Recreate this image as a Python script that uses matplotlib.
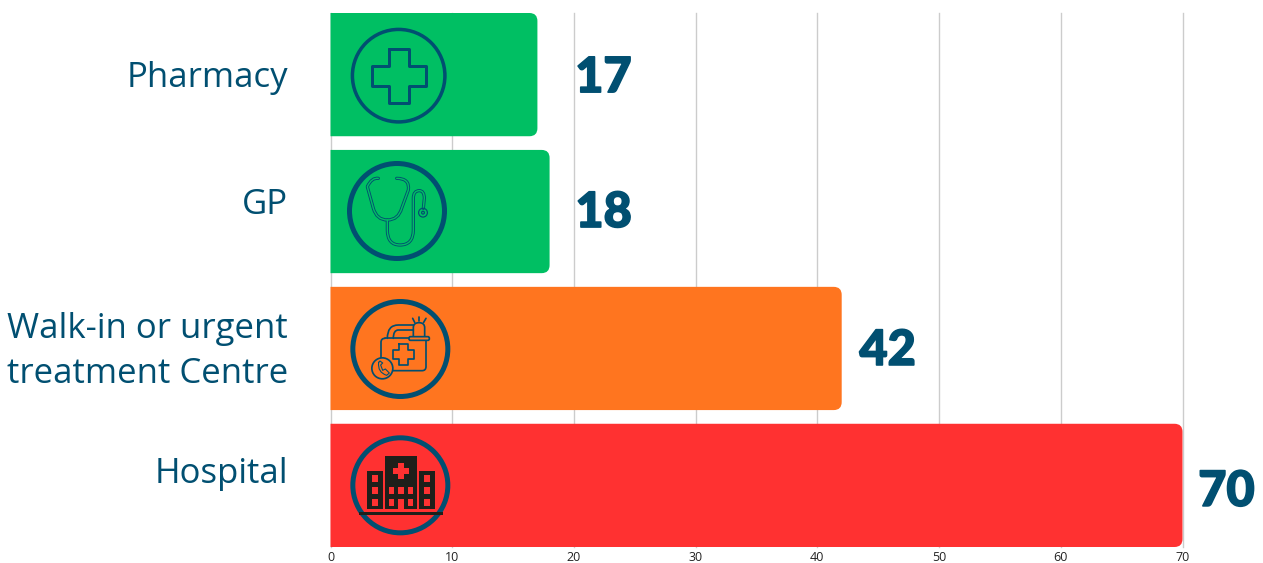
import matplotlib
matplotlib.use('Agg')
import matplotlib.pyplot as plt
import matplotlib.patheffects as pe
from matplotlib.path import Path
from matplotlib.patches import PathPatch, Circle, Rectangle, FancyBboxPatch

categories = ['Pharmacy', 'GP', 'Walk-in or urgent\ntreatment Centre', 'Hospital']
values = [17, 18, 42, 70]
x_ticks = [0, 10, 20, 30, 40, 50, 60, 70]

bar_colors = ['#00BF63', '#00BF63', '#FF751F', '#FF3131']
navy = '#014F71'
dark = '#1F1F1A'
label_dy = [3, -7, 3, -11]    # подписи слева не по центру столбца, сдвиг в px
value_dx = [66, 54, 46, 44]   # сдвиг числа от конца столбца
value_dy = [3, 1, 2, 6]

W, H = 1263, 563
fig = plt.figure(figsize=(W / 100, H / 100), dpi=100)
ax = fig.add_axes([330.5 / W, 16 / H, 852 / W, 534 / H])
ax.set_xlim(0, 70)
ax.set_ylim(3.45, -0.45)

px_x = 852 / 70
px_y = 137.0


def round_bar(y, v, color, h=0.9, r=8):
    # столбец со скруглением только справа
    rx, ry = r / px_x, r / px_y
    top, bot = y - h / 2, y + h / 2
    verts = [(0, top), (v - rx, top), (v, top), (v, top + ry), (v, bot - ry),
             (v, bot), (v - rx, bot), (0, bot), (0, top)]
    codes = [Path.MOVETO, Path.LINETO, Path.CURVE3, Path.CURVE3, Path.LINETO,
             Path.CURVE3, Path.CURVE3, Path.LINETO, Path.CLOSEPOLY]
    ax.add_patch(PathPatch(Path(verts, codes), fc=color, ec='none', zorder=3, clip_on=False))


for i, v in enumerate(values):
    round_bar(i, v, bar_colors[i])
    ax.annotate(categories[i], xy=(0, i), xytext=(-30.5, -label_dy[i] * 0.72),
                textcoords='offset points', ha='right', va='center', color=navy,
                fontsize=25, linespacing=1.4, family='Open Sans', annotation_clip=False)
    t = ax.annotate(str(v), xy=(v, i), xytext=(value_dx[i] * 0.72, -value_dy[i] * 0.72),
                    textcoords='offset points', ha='center', va='center', color=navy,
                    fontsize=35, family='Lato', fontweight='black', annotation_clip=False)
    t.set_path_effects([pe.withStroke(linewidth=1.2, foreground=navy)])

ax.set_xticks(x_ticks)
ax.set_yticks([])
ax.grid(axis='x', color='#CCCCCC', lw=1, zorder=0, clip_on=False)
ax.set_axisbelow(True)
ax.tick_params(axis='x', length=0, pad=3, labelsize=9, labelcolor='#222222')
for lab in ax.get_xticklabels():
    lab.set_family('Open Sans')
for s in ax.spines.values():
    s.set_visible(False)

# иконки рисуем в отдельных осях в пикселях картинки
ov = fig.add_axes([0, 0, 1, 1], zorder=5)
ov.set_xlim(0, W)
ov.set_ylim(H, 0)
ov.axis('off')
ov.patch.set_alpha(0)

PX = 0.72  # px -> pt для толщины линий


def z(pts, oy):
    return [(330 + a / 3, oy + b / 3) for a, b in pts]


def curve(pts, oy, color=navy, lw=1.5, fc='none'):
    # pts: первая точка, далее пары (контрольная, конечная) или одиночные точки-линии
    verts = [z([pts[0]], oy)[0]]
    codes = [Path.MOVETO]
    for p in pts[1:]:
        if len(p) == 4:
            verts += z([(p[0], p[1]), (p[2], p[3])], oy)
            codes += [Path.CURVE3, Path.CURVE3]
        else:
            verts += z([p], oy)
            codes += [Path.LINETO]
    ov.add_patch(PathPatch(Path(verts, codes), fc=fc, ec=color, lw=lw * PX,
                           capstyle='round', joinstyle='round'))


def ring(cx, cy, oy, r_outer, lw, color=navy, fc='none'):
    x, y = z([(cx, cy)], oy)[0]
    ov.add_patch(Circle((x, y), r_outer / 3 - lw / 2, fc=fc, ec=color, lw=lw * PX))


def plus(cx, cy, half, arm, oy, color, lw=0, fc='none'):
    a, h = arm, half
    pts = [(cx - a, cy - h), (cx + a, cy - h), (cx + a, cy - a), (cx + h, cy - a),
           (cx + h, cy + a), (cx + a, cy + a), (cx + a, cy + h), (cx - a, cy + h),
           (cx - a, cy + a), (cx - h, cy + a), (cx - h, cy - a), (cx - a, cy - a),
           (cx - a, cy - h)]
    curve(pts, oy, color=color if lw else 'none', lw=lw, fc=fc)


def box(x0, y0, x1, y1, oy, color):
    (a, b), (c, d) = z([(x0, y0), (x1, y1)], oy)
    ov.add_patch(Rectangle((a, b), c - a, d - b, fc=color, ec='none'))


# Pharmacy
ring(206, 227, 0, 144, 3.5)
plus(206, 227, 81, 30, 0, navy, lw=3)

# GP, трубка двойной линией
ring(201, 633, 0, 150, 5)
tube = [(145, 535), (125, 532, 112, 560), (130, 625), (140, 660, 172, 660),
        (205, 660, 215, 625), (235, 570), (240, 535, 200, 535)]
stem = [(172, 660), (172, 690), (172, 735, 210, 735), (250, 735, 250, 690), (250, 595),
        (250, 572, 268, 572), (283, 572, 283, 595), (280, 625)]
for path in (tube, stem):
    curve(path, 0, color=navy, lw=3.2)
for path in (tube, stem):
    curve(path, 0, color=bar_colors[1], lw=1.4)
ring(279, 638, 0, 15, 1.2)
ring(279, 638, 0, 6, 1.2)

# Walk-in
oy = 285
ring(211, 192, oy, 150, 5)
lw = 1.7
curve([(172, 160), (172, 120, 205, 120), (250, 120)], oy, lw=lw)
curve([(190, 160), (190, 135, 205, 135), (250, 135)], oy, lw=lw)
curve([(165, 160), (153, 160, 153, 172), (153, 225)], oy, lw=lw)
curve([(165, 160), (237, 160)], oy, lw=lw)
curve([(288, 166), (288, 245), (288, 257, 276, 257), (188, 257)], oy, lw=lw)
curve([(250, 155), (250, 128), (250, 113, 267, 113), (284, 113, 284, 128), (284, 155)], oy, lw=lw)
(bx, by), (bx2, by2) = z([(237, 155), (298, 166)], oy)
ov.add_patch(FancyBboxPatch((bx, by), bx2 - bx, by2 - by, boxstyle='round,pad=0,rounding_size=1.5',
                            fc=bar_colors[2], ec=navy, lw=lw * PX))
for ray in ([(248, 100), (254, 112)], [(267, 96), (267, 108)], [(288, 100), (281, 112)]):
    curve(ray, oy, lw=lw)
plus(221, 208, 31, 13, oy, navy, lw=lw)
ring(157, 250, oy, 34, lw, fc=bar_colors[2])
curve([(146, 232), (142, 262, 170, 271), (178, 264), (166, 252), (158, 256), (152, 240), (158, 234), (150, 228), (146, 232)],
      oy, lw=1.1)

# Hospital
oy = 285
ring(211, 601, oy, 150, 5)
box(166, 513, 260, 672, oy, dark)
box(112, 558, 158, 672, oy, dark)
box(268, 558, 314, 672, oy, dark)
box(87, 680, 338, 689, oy, dark)
red = bar_colors[3]
for wy in (570, 606, 642):
    box(126, wy, 145, wy + 20, oy, red)
    box(282, wy, 301, wy + 20, oy, red)
for wx in (176, 205, 233):
    box(wx, 606, wx + 17, 626, oy, red)
box(176, 642, 193, 662, oy, red)
box(233, 642, 250, 662, oy, red)
box(205, 642, 222, 672, oy, red)
plus(213, 558, 23, 8, oy, red, fc=red)

fig.savefig('out.png', dpi=100)
